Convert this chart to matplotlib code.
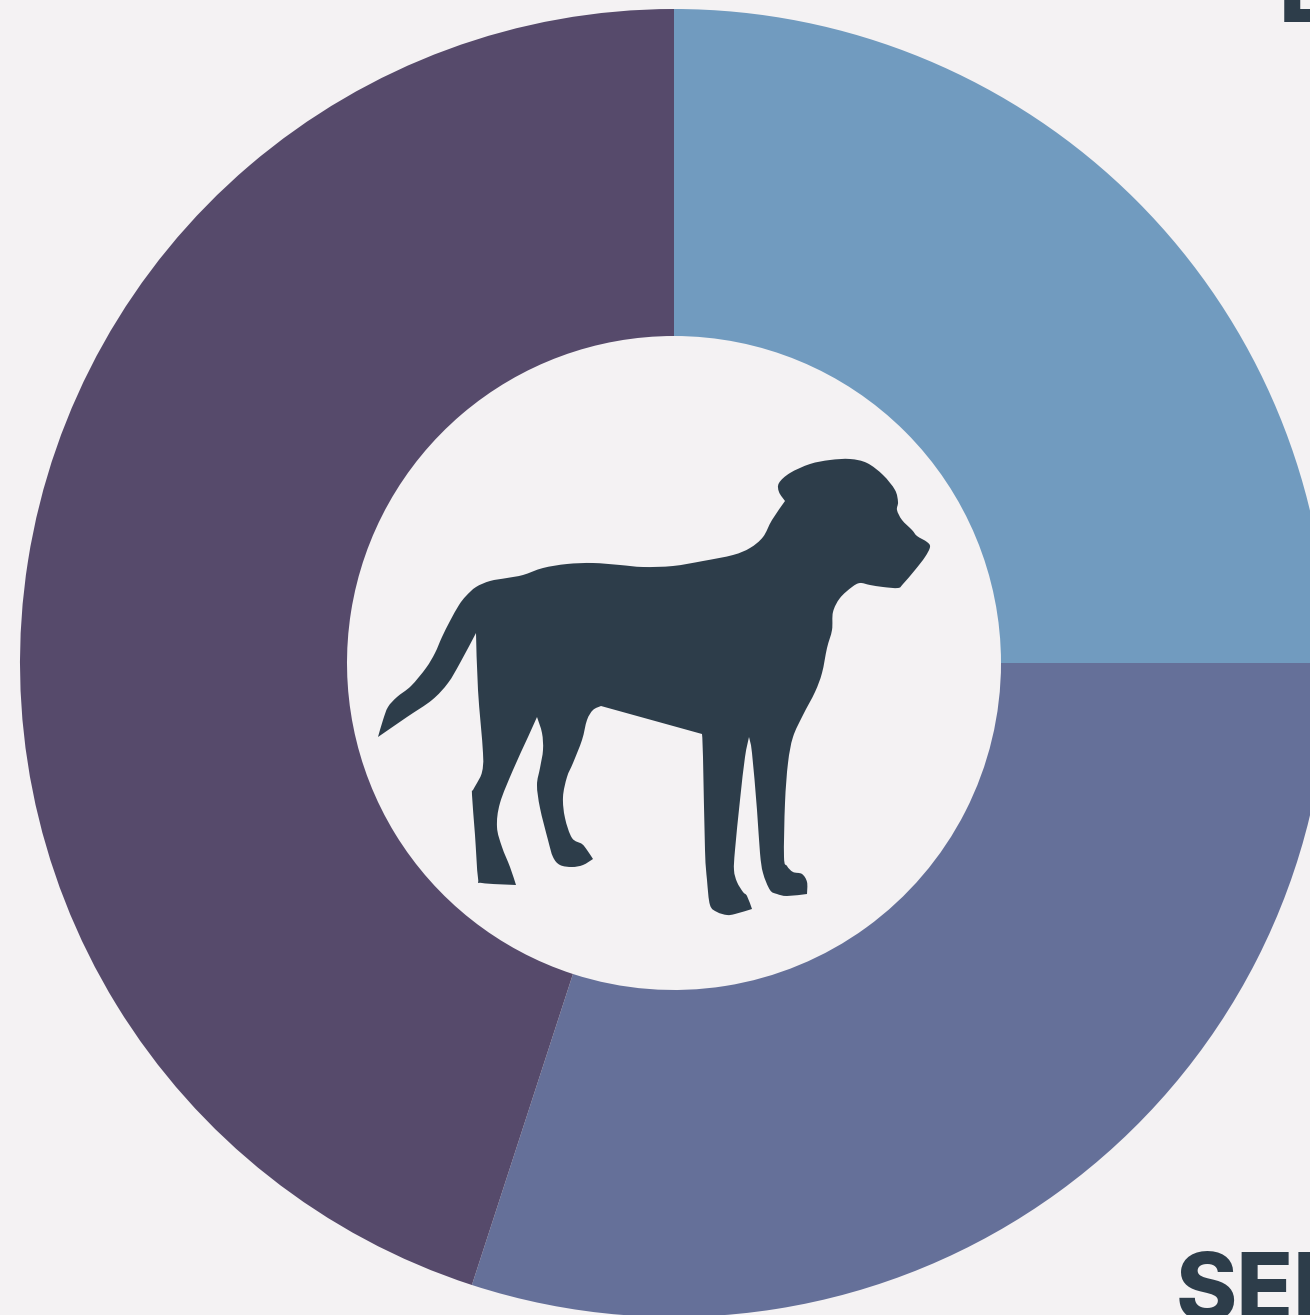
import matplotlib
matplotlib.use('Agg')
import matplotlib.pyplot as plt
import numpy as np
from matplotlib.path import Path
from matplotlib.patches import PathPatch

W, H = 1310, 1315

shares = [25, 30, 45]
colors = ['#719BBF', '#657099', '#564A6B']
bg = '#F4F2F3'
dark = '#2D3D4A'
labels = ['L', 'SEN']

# dog outline in pixels of the picture, runs between sharp corners
dog_runs = [
    [(378, 737), (383, 720), (388, 707), (397, 697), (411, 686), (426, 668), (435, 653), (442, 637), (450, 621),
     (459, 605), (466, 596), (476, 587), (490, 581), (507, 578), (523, 575), (543, 568), (567, 564), (593, 563),
     (620, 565), (643, 567), (673, 566), (703, 561), (733, 555), (750, 548), (763, 537), (772, 520), (785, 501)],
    [(785, 501), (779, 492), (779, 483), (790, 473), (810, 464), (830, 460), (850, 459), (867, 463), (883, 475),
     (895, 490), (898, 502), (897, 510), (902, 520), (912, 530), (917, 536), (927, 542), (930, 547), (925, 557),
     (915, 570), (903, 584), (898, 588), (883, 587), (870, 585), (860, 583), (852, 587), (840, 598), (833, 612),
     (832, 630), (827, 648), (822, 673), (815, 692), (803, 715), (793, 737), (788, 763), (785, 803), (784, 857),
     (787, 866), (793, 872), (802, 874), (807, 882), (807, 894)],
    [(807, 894), (787, 896), (777, 894), (770, 890), (763, 873), (760, 853), (757, 810), (752, 753), (749, 737)],
    [(749, 737), (745, 757), (740, 800), (735, 850), (734, 870), (737, 882), (743, 892), (747, 896), (752, 909)],
    [(752, 909), (735, 914), (727, 915), (717, 912), (710, 905), (707, 880), (705, 850), (703, 757), (702, 734)],
    [(702, 734), (601, 706)],
    [(601, 706), (593, 710), (587, 720), (582, 740), (573, 763), (567, 777), (563, 797), (565, 818), (572, 838),
     (582, 844), (587, 850), (593, 859)],
    [(593, 859), (583, 865), (572, 867), (560, 865), (553, 857), (548, 840), (540, 808), (537, 785), (540, 768),
     (543, 750), (542, 733), (537, 717)],
    [(537, 717), (528, 737), (513, 770), (500, 803), (497, 827), (502, 847), (510, 867), (516, 885)],
    [(516, 885), (482, 883), (478, 878), (475, 835), (472, 795), (473, 790), (477, 783), (482, 772), (483, 753),
     (478, 690), (476, 633)],
    [(476, 633), (460, 663), (448, 683), (432, 700), (407, 717), (378, 737)],
]


def dog_path(runs):
    verts = [(runs[0][0][0], H - runs[0][0][1])]
    codes = [Path.MOVETO]
    for run in runs:
        p = np.array(run, dtype=float)
        p[:, 1] = H - p[:, 1]
        # catmull-rom to bezier inside each run
        q = np.vstack([p[0], p, p[-1]])
        for i in range(1, len(q) - 2):
            verts += [tuple(q[i] + (q[i + 1] - q[i - 1]) / 6),
                      tuple(q[i + 1] - (q[i + 2] - q[i]) / 6),
                      tuple(q[i + 1])]
            codes += [Path.CURVE4] * 3
    return Path(verts, codes)


fig = plt.figure(figsize=(W / 100, H / 100), dpi=100, facecolor=bg)
ax = fig.add_axes([0, 0, 1, 1])

ax.pie(shares, colors=colors, center=(674, H - 663), radius=654, startangle=90, counterclock=False,
       wedgeprops={'width': 327, 'linewidth': 0}, frame=True)
ax.add_patch(PathPatch(dog_path(dog_runs), facecolor=dark, edgecolor='none'))

ax.set_xlim(0, W)
ax.set_ylim(0, H)
ax.axis('off')

font = {'family': 'Inter', 'weight': 800, 'size': 67, 'color': dark}
ax.text(1279, H - 22, labels[0], ha='left', va='baseline', **font)
ax.text(1176, H - 1320, labels[1], ha='left', va='baseline', clip_on=False, **font)

fig.savefig('out.png', dpi=100, facecolor=bg)
